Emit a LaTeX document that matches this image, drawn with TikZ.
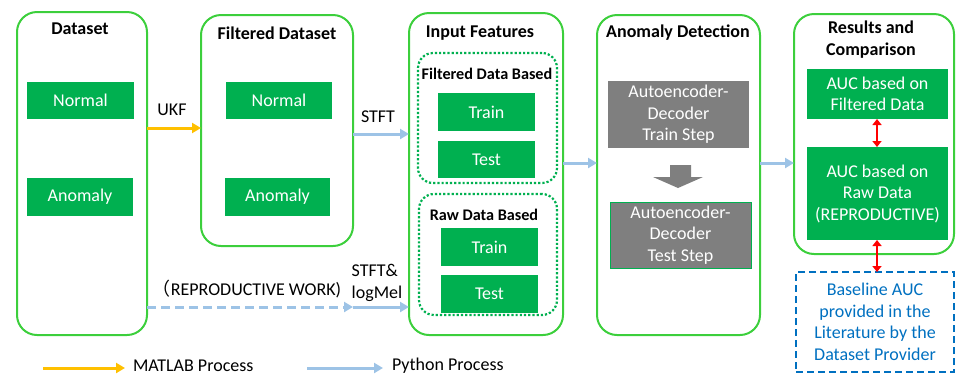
\documentclass[tikz,border=0pt]{standalone}
\usepackage{fontspec}
\setmainfont{Carlito}
\newfontfamily\cjk{Noto Sans CJK SC}
\usetikzlibrary{arrows.meta,calc}
\definecolor{boxgreen}{HTML}{3CCF3C}
\definecolor{fillgreen}{HTML}{00B050}
\definecolor{greybox}{HTML}{7F7F7F}
\definecolor{pyblue}{HTML}{9DC3E6}
\definecolor{matorange}{HTML}{FFC000}
\definecolor{litblue}{HTML}{0070C0}
\definecolor{redarr}{HTML}{FF0000}
\begin{document}
\begin{tikzpicture}[x=1pt,y=-1pt,
  every node/.style={font=\fontsize{18}{21.5}\selectfont, inner sep=0pt, outer sep=0pt},
  stage/.style={draw=boxgreen, line width=2pt, rounded corners=20pt},
  gbox/.style={fill=fillgreen, text=white, align=center},
  dotbox/.style={draw=fillgreen, line width=2.2pt, dotted, rounded corners=15pt},
  grey/.style={fill=greybox, text=white, align=center},
  ttl/.style={font=\fontsize{18}{22}\selectfont\bfseries, align=center},
  subttl/.style={font=\fontsize{16.2}{19}\selectfont\bfseries},
  lbl/.style={text=black},
  pyarrow/.style={draw=pyblue, line width=3pt, -{Triangle[length=9pt,width=10pt]}},
  matarrow/.style={draw=matorange, line width=3pt, -{Triangle[length=9pt,width=10pt]}},
  redboth/.style={draw=redarr, line width=2.4pt, {Triangle[length=6pt,width=9pt]}-{Triangle[length=6pt,width=9pt]}}
]
\useasboundingbox (0,0) rectangle (956,376);

% stages
\node[stage, minimum width=130pt, minimum height=323pt] (b1) at (82,173.5) {};
\node[stage, minimum width=152pt, minimum height=231pt] (b2) at (277,130.5) {};
\node[stage, minimum width=154pt, minimum height=322pt] (b3) at (486,174) {};
\node[stage, minimum width=163pt, minimum height=320pt] (b4) at (678.5,175) {};
\node[stage, minimum width=160pt, minimum height=240pt] (b5) at (874,134) {};

% titles
\node[ttl] (t1) at (80,29) {Dataset};
\node[ttl] (t2) at (277,33) {Filtered Dataset};
\node[ttl] (t3) at (480,33) {Input Features};
\node[ttl] (t4) at (678,33) {Anomaly Detection};
\node[ttl] (t5) at (871,40) {Results and\\Comparison};

% dataset boxes
\node[gbox, minimum width=107pt, minimum height=37pt] (n1) at (80.5,100.5) {Normal};
\node[gbox, minimum width=106pt, minimum height=38pt] (a1) at (80,197) {Anomaly};
\node[gbox, minimum width=106pt, minimum height=37pt] (n2) at (279,100.5) {Normal};
\node[gbox, minimum width=105pt, minimum height=38pt] (a2) at (277.5,197) {Anomaly};

% input features
\node[dotbox, minimum width=139pt, minimum height=130pt] (d1) at (487.5,118) {};
\node[dotbox, minimum width=138pt, minimum height=121pt] (d2) at (488,254.5) {};
\node[subttl] (s1) at (487,74) {Filtered Data Based};
\node[subttl] (s2) at (484,215) {Raw Data Based};
\node[gbox, minimum width=97pt, minimum height=38pt] (tr1) at (486.5,112) {Train};
\node[gbox, minimum width=97pt, minimum height=37pt] (te1) at (486.5,159.5) {Test};
\node[gbox, minimum width=97pt, minimum height=38pt] (tr2) at (489.5,247) {Train};
\node[gbox, minimum width=97pt, minimum height=38pt] (te2) at (489.5,294) {Test};

% anomaly detection
\node[grey, minimum width=141pt, minimum height=67pt] (g1) at (678.5,114.5) {Autoencoder-\\Decoder\\Train Step};
\node[grey, draw=fillgreen, line width=0.8pt, minimum width=141pt, minimum height=66pt] (g2) at (680.5,235) {Autoencoder-\\Decoder\\Test Step};
\fill[greybox] (670,165) -- (691,165) -- (691,177) -- (703,177) -- (678,188) -- (653,177) -- (670,177) -- cycle;

% results
\node[gbox, minimum width=141pt, minimum height=50pt] (r1) at (877.5,94) {AUC based on\\Filtered Data};
\node[gbox, minimum width=141pt, minimum height=93pt] (r2) at (877.5,193.5) {AUC based on\\Raw Data\\(REPRODUCTIVE)};
\node[draw=litblue, line width=1.8pt, dashed, dash pattern=on 7pt off 4pt, text=litblue, align=center, minimum width=158pt, minimum height=100pt] (bl) at (875,322) {Baseline AUC\\provided in the\\Literature by the\\Dataset Provider};

% connectors
\draw[matarrow] (b1.east |- 0,128) -- (b2.west |- 0,128);
\node[lbl] (lukf) at (172,110) {UKF};
\draw[pyarrow] (b2.east |- 0,134) -- (b3.west |- 0,134);
\node[lbl] (lstft) at (378,117) {STFT};
\coordinate (mid) at (353,307);
\draw[pyarrow, dashed, dash pattern=on 9pt off 5pt] (b1.east |- 0,307) -- (mid);
\draw[pyarrow] (mid) -- (b3.west |- 0,307);
\node[lbl] (lrep) at (247,289) {{\cjk （}REPRODUCTIVE WORK)};
\node[lbl, align=left] (llog) at (377,283) {STFT\&\\logMel};
\draw[pyarrow] (b3.east |- 0,163) -- (b4.west |- 0,163);
\draw[pyarrow] (b4.east |- 0,163) -- (b5.west |- 0,163);
\draw[redboth] (r1.south -| 877,0) -- (r2.north -| 877,0);
\draw[redboth] (r2.south -| 877,0) -- (bl.north -| 877,0);

% legend
\coordinate (m0) at (43,368);
\coordinate (m1) at (125,368);
\coordinate (p0) at (307,368);
\coordinate (p1) at (383,368);
\draw[matarrow] (m0) -- (m1);
\draw[pyarrow] (p0) -- (p1);
\node[lbl, anchor=west] (lm) at (133,366) {MATLAB Process};
\node[lbl, anchor=west] (lp) at (392,366) {Python Process};
\end{tikzpicture}
\end{document}
